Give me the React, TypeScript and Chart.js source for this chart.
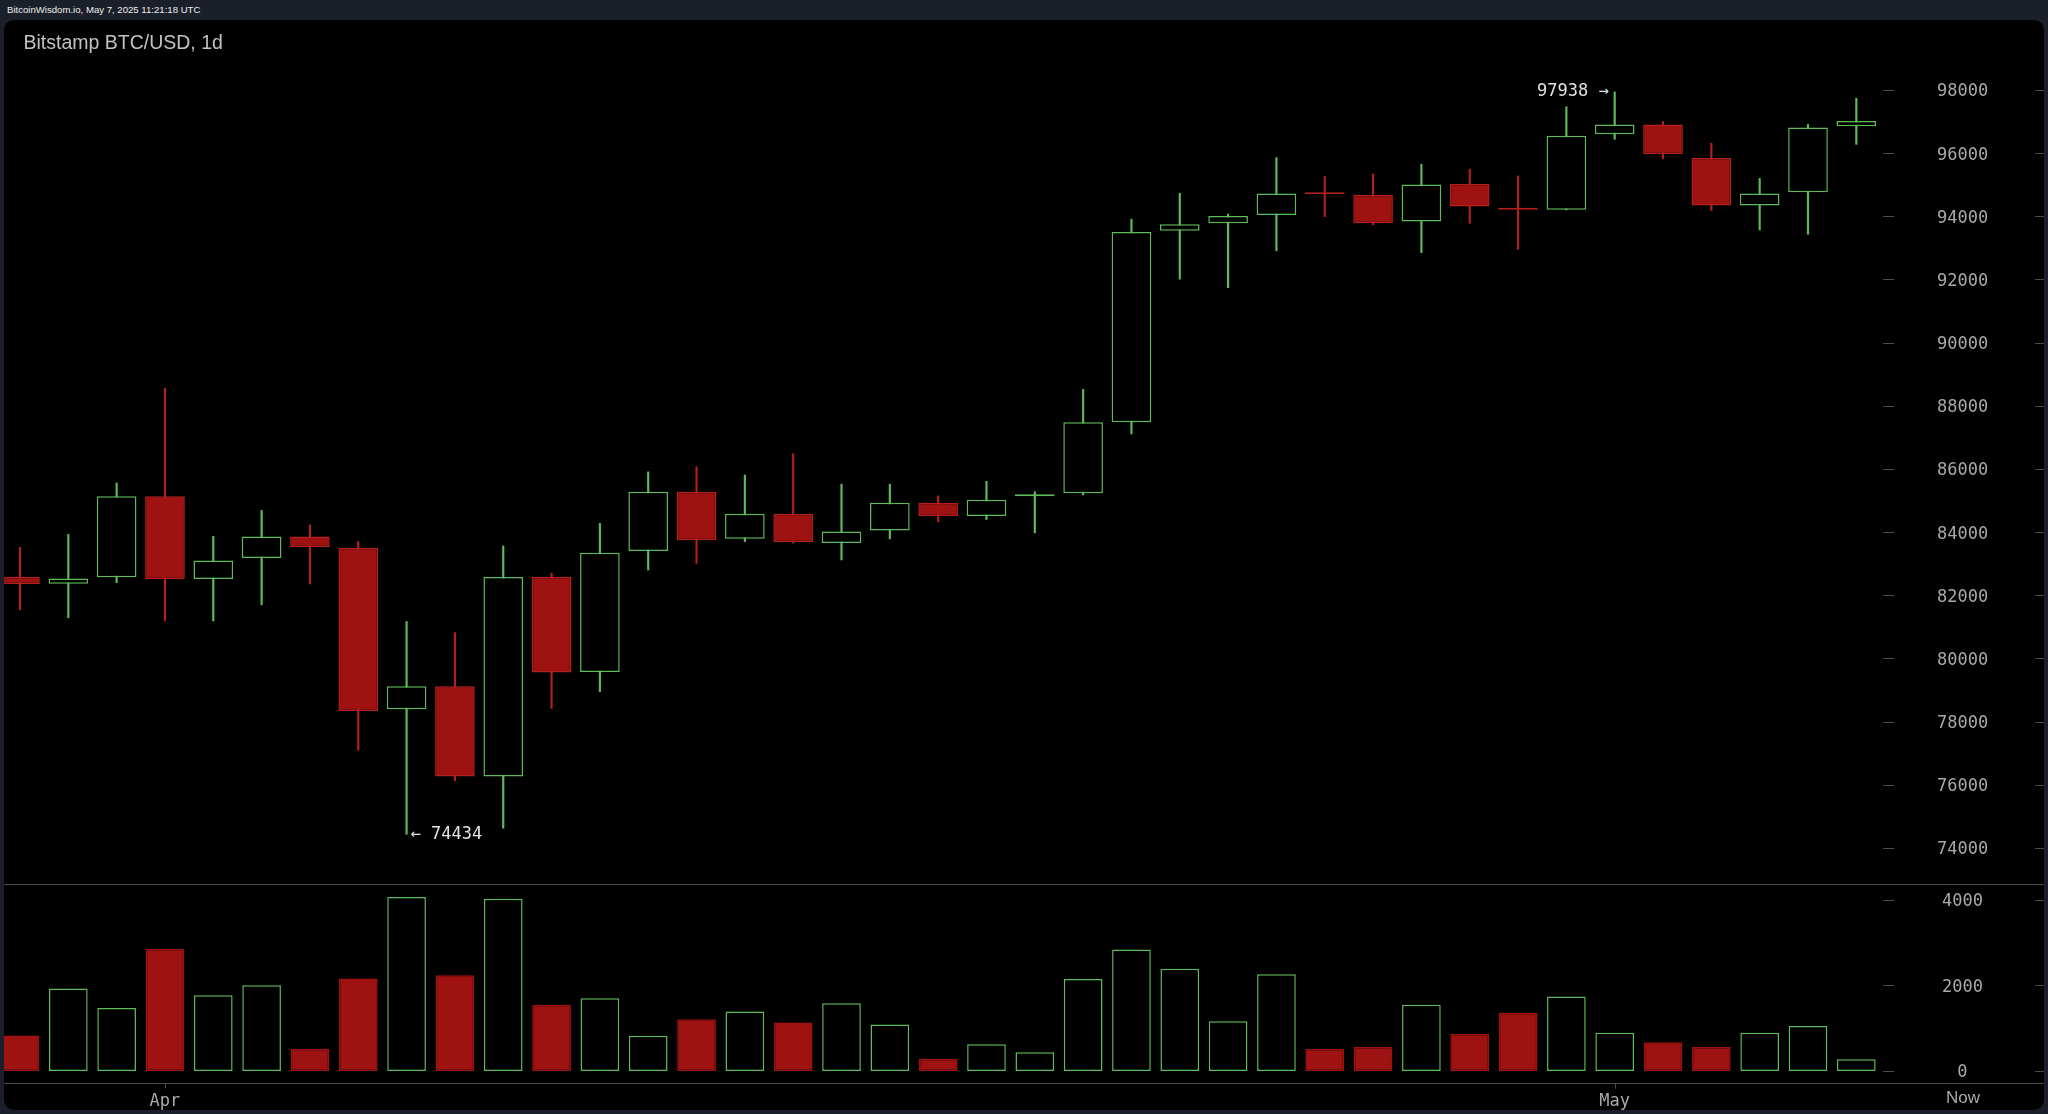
import { useEffect, useRef } from 'react'
import { Chart, registerables, type ChartOptions, type Plugin } from 'chart.js'

Chart.register(...registerables)

const DAYS = [
  'Mar 29', 'Mar 30', 'Mar 31',
  'Apr 1', 'Apr 2', 'Apr 3', 'Apr 4', 'Apr 5', 'Apr 6', 'Apr 7', 'Apr 8', 'Apr 9', 'Apr 10',
  'Apr 11', 'Apr 12', 'Apr 13', 'Apr 14', 'Apr 15', 'Apr 16', 'Apr 17', 'Apr 18', 'Apr 19', 'Apr 20',
  'Apr 21', 'Apr 22', 'Apr 23', 'Apr 24', 'Apr 25', 'Apr 26', 'Apr 27', 'Apr 28', 'Apr 29', 'Apr 30',
  'May 1', 'May 2', 'May 3', 'May 4', 'May 5', 'May 6',
]

const OPEN = [
  82590, 82370, 82570, 85140, 82520, 83180, 83860, 83510, 78390, 79120, 76260, 82590, 79570,
  83400, 85280, 83790, 84580, 83660, 84050, 84930, 84510, 85140, 85230, 87480, 93540, 93780,
  94040, 94720, 94680, 93840, 95020, 94240, 94210, 96600, 96910, 95850, 94340, 94760, 96850,
]
const HIGH = [
  83520, 83930, 85560, 88560, 83870, 84690, 84230, 83700, 81170, 80820, 83560, 82700, 84280,
  85910, 86070, 85810, 86480, 85520, 85520, 85150, 85610, 85280, 88520, 93910, 94730, 94070,
  95860, 95260, 95340, 95650, 95490, 95280, 97470, 97938, 97000, 96310, 95200, 96910, 97740,
]
const LOW = [
  81540, 81290, 82400, 81190, 81190, 81700, 82360, 77100, 74434, 76130, 74630, 78420, 78950,
  82800, 83010, 83700, 83650, 83120, 83790, 84330, 84400, 83980, 85180, 87110, 92010, 91740,
  92910, 93990, 93730, 92850, 93780, 92960, 94200, 96440, 95820, 94180, 93570, 93430, 96280,
]
const CLOSE = [
  82360, 82530, 85140, 82510, 83100, 83860, 83530, 78340, 79120, 76260, 82580, 79560, 83350,
  85280, 83740, 84580, 83690, 84020, 84930, 84510, 85030, 85170, 87480, 93500, 93750, 94010,
  94720, 94700, 93780, 95010, 94310, 94210, 96550, 96910, 95970, 94340, 94720, 96810, 97020,
]
const VOLUME = [
  832, 1932, 1473, 2851, 1774, 2004, 523, 2162, 4071, 2241, 4031, 1552, 1703,
  824, 1212, 1394, 1133, 1584, 1085, 285, 626, 436, 2154, 2843, 2392, 1164,
  2265, 515, 562, 1552, 863, 1362, 1742, 895, 673, 562, 895, 1053, 277,
]

const PRICE_TICKS = [74000, 76000, 78000, 80000, 82000, 84000, 86000, 88000, 90000, 92000, 94000, 96000, 98000]
const VOLUME_TICKS = [0, 2000, 4000]
const MONTH_TICKS = ['Apr', 'May']
const MONTH_TICK_DAYS = ['Apr 1', 'May 1']
const NOW_LABEL = 'Now'

const GREEN = '#5fbb58'
const RED_FILL = '#9e1212'
const RED_LINE = '#b3201e'
const AXIS_GRAY = '#4e4e4e'
const LABEL_GRAY = '#a9a9a9'
const MONO = '"DejaVu Sans Mono", monospace'

const CANVAS_W = 2040
const AXIS_W = 164
const X_MIN = -0.331
const X_MAX = 38.49

const isUp = (i: number) => CLOSE[i] >= OPEN[i]

function drawAxisDashes(chart: Chart, scaleId: string) {
  const { ctx, chartArea, width } = chart
  const scale = chart.scales[scaleId]
  ctx.save()
  ctx.strokeStyle = AXIS_GRAY
  ctx.lineWidth = 1
  for (const t of scale.ticks) {
    const y = Math.round(scale.getPixelForValue(t.value)) + 0.5
    ctx.beginPath()
    ctx.moveTo(chartArea.right + 3, y)
    ctx.lineTo(chartArea.right + 14, y)
    ctx.moveTo(width - 9, y)
    ctx.lineTo(width, y)
    ctx.stroke()
  }
  ctx.restore()
}

const priceDecor: Plugin = {
  id: 'priceDecor',
  afterDraw(chart) {
    drawAxisDashes(chart, 'y')
    const { ctx } = chart
    const xs = chart.scales.x
    const ys = chart.scales.y
    const hi = HIGH.indexOf(Math.max(...HIGH))
    const lo = LOW.indexOf(Math.min(...LOW))
    ctx.save()
    ctx.font = `17px ${MONO}`
    ctx.fillStyle = '#e2e2e2'
    ctx.textBaseline = 'middle'
    ctx.textAlign = 'right'
    ctx.fillText(`${HIGH[hi]} →`, xs.getPixelForValue(hi) - 6, ys.getPixelForValue(HIGH[hi]))
    ctx.textAlign = 'left'
    ctx.fillText(`← ${LOW[lo]}`, xs.getPixelForValue(lo) + 4, ys.getPixelForValue(LOW[lo]))
    ctx.restore()
  },
}

const volumeDecor: Plugin = {
  id: 'volumeDecor',
  afterDraw(chart) {
    drawAxisDashes(chart, 'y')
    const { ctx, chartArea, width } = chart
    const xs = chart.scales.x
    ctx.save()
    ctx.strokeStyle = AXIS_GRAY
    ctx.lineWidth = 1
    ctx.beginPath()
    ctx.moveTo(0, 0.5)
    ctx.lineTo(width, 0.5)
    const by = Math.round(chartArea.bottom) + 0.5
    ctx.moveTo(0, by)
    ctx.lineTo(width, by)
    // small month marks under the baseline
    for (const t of xs.ticks) {
      const x = Math.round(xs.getPixelForValue(t.value)) + 0.5
      ctx.moveTo(x, by)
      ctx.lineTo(x, by + 5)
    }
    ctx.stroke()
    ctx.font = '17px "Liberation Sans", Arial, sans-serif'
    ctx.fillStyle = LABEL_GRAY
    ctx.textAlign = 'center'
    ctx.textBaseline = 'middle'
    ctx.fillText(NOW_LABEL, chartArea.right + 83, chartArea.bottom + 15)
    ctx.restore()
  },
}

const xScale = {
  type: 'linear' as const,
  min: X_MIN,
  max: X_MAX,
  offset: false,
}

function yAxis(ticks: number[], min: number, max: number, padding: number) {
  return {
    type: 'linear' as const,
    position: 'right' as const,
    min,
    max,
    grid: { display: false },
    border: { display: false },
    afterBuildTicks: (scale: any) => {
      scale.ticks = ticks.map((value) => ({ value }))
    },
    afterFit: (scale: any) => {
      // the labels sit well inside the plot, no room needed above or below
      scale.width = AXIS_W
      scale.paddingTop = 0
      scale.paddingBottom = 0
    },
    ticks: {
      padding,
      labelOffset: 2,
      crossAlign: 'center' as const,
      color: LABEL_GRAY,
      font: { family: MONO, size: 17 },
      callback: (v: any) => String(v),
    },
  }
}

function PriceChart() {
  const canvasRef = useRef<HTMLCanvasElement>(null)

  useEffect(() => {
    const canvas = canvasRef.current
    if (!canvas) return
    const options: ChartOptions<'bar'> = {
      responsive: false,
      animation: false,
      layout: { padding: 0 },
      plugins: { legend: { display: false }, tooltip: { enabled: false } },
      scales: {
        x: { ...xScale, display: false },
        y: yAxis(PRICE_TICKS, 72860, 100216, 49),
      },
    }
    const chart = new Chart(canvas, {
      type: 'bar',
      data: {
        datasets: [
          {
            label: 'wick',
            data: DAYS.map((_, i) => ({ x: i, y: [LOW[i], HIGH[i]] })) as any,
            backgroundColor: DAYS.map((_, i) => (isUp(i) ? GREEN : RED_LINE)),
            borderWidth: 0,
            barThickness: 1.5,
            grouped: false,
            order: 2,
          },
          {
            label: 'body',
            data: DAYS.map((_, i) => ({ x: i, y: [OPEN[i], CLOSE[i]] })) as any,
            backgroundColor: DAYS.map((_, i) => (isUp(i) ? '#000000' : RED_FILL)),
            borderColor: DAYS.map((_, i) => (isUp(i) ? GREEN : RED_LINE)),
            borderWidth: 1.5,
            borderSkipped: false,
            minBarLength: 2,
            categoryPercentage: 1,
            barPercentage: 0.82,
            grouped: false,
            order: 1,
          },
        ],
      },
      options,
      plugins: [priceDecor],
    })
    return () => chart.destroy()
  }, [])

  return <canvas ref={canvasRef} width={CANVAS_W} height={864} style={{ position: 'absolute', left: 0, top: 0 }} />
}

function VolumeChart() {
  const canvasRef = useRef<HTMLCanvasElement>(null)

  useEffect(() => {
    const canvas = canvasRef.current
    if (!canvas) return
    const options: ChartOptions<'bar'> = {
      responsive: false,
      animation: false,
      layout: { padding: 0 },
      plugins: { legend: { display: false }, tooltip: { enabled: false } },
      scales: {
        x: {
          ...xScale,
          grid: { display: false },
          border: { display: false },
          afterBuildTicks: (scale: any) => {
            scale.ticks = MONTH_TICK_DAYS.map((d) => ({ value: DAYS.indexOf(d) }))
          },
          afterFit: (scale: any) => {
            scale.height = 27
            scale.paddingLeft = 0
            scale.paddingRight = 0
          },
          ticks: {
            padding: 0,
            maxRotation: 0,
            autoSkip: false,
            color: LABEL_GRAY,
            font: { family: MONO, size: 17 },
            callback: (_v: any, index: number) => MONTH_TICKS[index],
          },
        },
        y: yAxis(VOLUME_TICKS, -281, 4374, 54),
      },
    }
    const chart = new Chart(canvas, {
      type: 'bar',
      data: {
        datasets: [
          {
            label: 'volume',
            data: DAYS.map((_, i) => ({ x: i, y: VOLUME[i] })) as any,
            backgroundColor: DAYS.map((_, i) => (isUp(i) ? '#000000' : RED_FILL)),
            borderColor: DAYS.map((_, i) => (isUp(i) ? GREEN : RED_FILL)),
            borderWidth: 1.5,
            borderSkipped: false,
            categoryPercentage: 1,
            barPercentage: 0.8,
            grouped: false,
          },
        ],
      },
      options,
      plugins: [volumeDecor],
    })
    return () => chart.destroy()
  }, [])

  return <canvas ref={canvasRef} width={CANVAS_W} height={226} style={{ position: 'absolute', left: 0, top: 864 }} />
}

export default function App() {
  return (
    <div style={{ position: 'fixed', inset: 0, background: '#1b1f2a', overflow: 'hidden' }}>
      <div
        style={{
          position: 'absolute',
          left: 7,
          top: 0,
          height: 20,
          lineHeight: '20px',
          fontFamily: '"Liberation Sans", Arial, sans-serif',
          fontSize: 9.6,
          color: '#eeeeee',
        }}
      >
        BitcoinWisdom.io, May 7, 2025 11:21:18 UTC
      </div>
      <div
        style={{
          position: 'absolute',
          left: 4,
          top: 20,
          width: CANVAS_W,
          height: 1090,
          background: '#000',
          borderRadius: 10,
          overflow: 'hidden',
        }}
      >
        <PriceChart />
        <VolumeChart />
        <div
          style={{
            position: 'absolute',
            left: 19.5,
            top: 12,
            lineHeight: '20px',
            fontFamily: '"Liberation Sans", Arial, sans-serif',
            fontSize: 19.5,
            color: '#c2c2c2',
            pointerEvents: 'none',
          }}
        >
          Bitstamp BTC/USD, 1d
        </div>
      </div>
    </div>
  )
}
